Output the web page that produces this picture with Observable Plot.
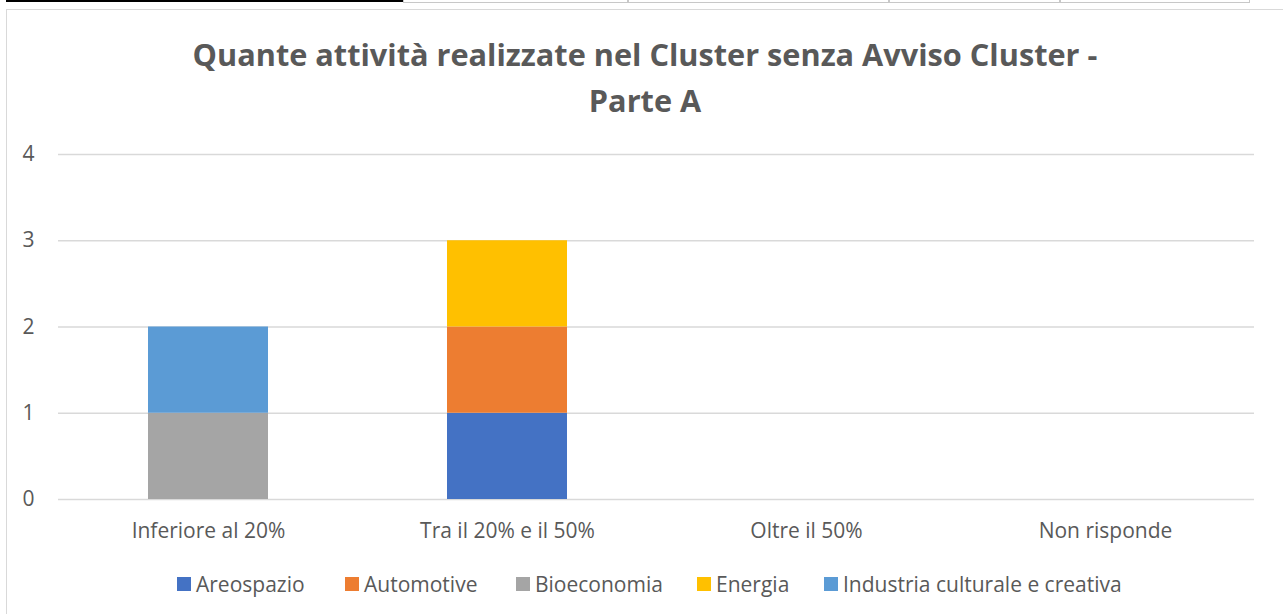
<!DOCTYPE html>
<html>
<head>
<meta charset="utf-8">
<script src="https://cdn.jsdelivr.net/npm/d3@7"></script>
<script src="https://cdn.jsdelivr.net/npm/@observablehq/plot@0.6"></script>
<style>
  html, body { margin: 0; padding: 0; background: #fff; }
  #wrap { position: relative; width: 1283px; height: 614px; overflow: hidden; font-family: "Open Sans", sans-serif; }
  .cell { position: absolute; top: -2px; height: 5px; border: 1px solid #c8c8c8; border-top: none; box-sizing: border-box; }
  #frame { position: absolute; left: 6px; top: 9px; width: 1280px; height: 610px; border: 1px solid #d9d9d9; box-sizing: border-box; }
  #title { position: absolute; left: 0; width: 1290px; top: 31px; text-align: center; font-weight: bold; font-size: 30.7px; line-height: 46px; color: #595959; }
  #chart { position: absolute; left: 0; top: 0; }
  #legend { position: absolute; top: 570px; left: 0; width: 1283px; height: 28px; }
  .sw { position: absolute; top: 7px; width: 14px; height: 14px; }
  .lt { position: absolute; top: 0; font-size: 21px; color: #595959; line-height: 28px; white-space: nowrap; }
</style>
</head>
<body>
<div id="wrap">
  <div class="cell" style="left:6px;width:397px;height:4px;border:2px solid #000;border-top:none;"></div>
  <div class="cell" style="left:403px;width:225px;"></div>
  <div class="cell" style="left:628px;width:261px;"></div>
  <div class="cell" style="left:889px;width:171px;"></div>
  <div class="cell" style="left:1060px;width:190px;"></div>
  <div id="frame"></div>
  <div id="chart"></div>
  <div id="title">Quante attività realizzate nel Cluster senza Avviso Cluster -<br>Parte A</div>
  <div id="legend"></div>
</div>
<script>
const categories = ["Inferiore al 20%", "Tra il 20% e il 50%", "Oltre il 50%", "Non risponde"];
const series = ["Areospazio", "Automotive", "Bioeconomia", "Energia", "Industria culturale e creativa"];
const colors = ["#4472C4", "#ED7D31", "#A5A5A5", "#FFC000", "#5B9BD5"];
const areospazio = [0, 1, 0, 0];
const automotive = [0, 1, 0, 0];
const bioeconomia = [1, 0, 0, 0];
const energia = [0, 1, 0, 0];
const industria = [1, 0, 0, 0];
const yTicks = [0, 1, 2, 3, 4];

const seriesValues = [areospazio, automotive, bioeconomia, energia, industria];
const data = [];
series.forEach((s, i) => categories.forEach((c, j) => data.push({series: s, category: c, value: seriesValues[i][j]})));

const chart = Plot.plot({
  width: 1283,
  height: 560,
  marginTop: 154,
  marginBottom: 61,
  marginLeft: 58,
  marginRight: 29,
  style: { fontFamily: "'Open Sans', sans-serif", fontSize: "21px", color: "#595959", background: "transparent" },
  x: { domain: categories, paddingInner: 0.6, paddingOuter: 0.3, label: null },
  y: { domain: [0, 4], label: null },
  color: { domain: series, range: colors },
  marks: [
    Plot.gridY(yTicks, { stroke: "#d9d9d9", strokeOpacity: 1, strokeWidth: 1.5 }),
    Plot.barY(data, Plot.stackY({ x: "category", y: "value", fill: "series", order: null })),
    Plot.axisX({ tickSize: 0, tickPadding: 24, fontSize: 21, fill: "#595959", label: null }),
    Plot.axisY(yTicks, { tickSize: 0, tickPadding: 24, fontSize: 21, fill: "#595959", tickFormat: d3.format("d"), label: null })
  ]
});
document.getElementById("chart").appendChild(chart);

const legend = document.getElementById("legend");
const lefts = [177, 345, 516, 697, 824];
series.forEach((s, i) => {
  const b = document.createElement("div");
  b.className = "sw";
  b.style.left = lefts[i] + "px";
  b.style.background = colors[i];
  legend.appendChild(b);
  const t = document.createElement("div");
  t.className = "lt";
  t.style.left = (lefts[i] + 19) + "px";
  t.textContent = s;
  legend.appendChild(t);
});
</script>
</body>
</html>
